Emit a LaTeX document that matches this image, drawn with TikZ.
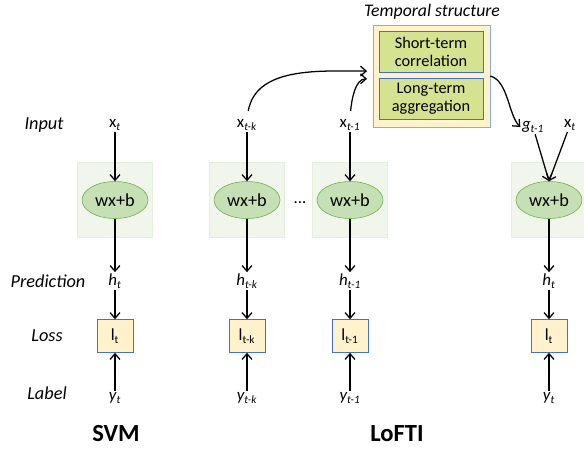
\documentclass[tikz,border=0pt]{standalone}
\usepackage{fontspec}
\setmainfont{Carlito}
\usepackage{tikz}
\usetikzlibrary{arrows.meta,shapes.geometric}
\definecolor{cellbg}{RGB}{240,246,235}
\definecolor{cellline}{RGB}{226,239,217}
\definecolor{fnfill}{RGB}{197,224,180}
\definecolor{fnline}{RGB}{112,173,71}
\definecolor{lossbg}{RGB}{255,242,204}
\definecolor{lossline}{RGB}{68,114,196}
\definecolor{templine}{RGB}{143,170,220}
\definecolor{subbg}{RGB}{213,227,145}

\tikzset{
    lbl/.style={font=\fontsize{13}{15}\selectfont\itshape},
    var/.style={inner sep=1pt},
    cell/.style={draw=cellline, fill=cellbg, minimum size=1.875cm},
    fn/.style={ellipse, draw=fnline, fill=fnfill, minimum width=1.65cm, minimum height=0.925cm, inner sep=0pt, font=\fontsize{13}{15}\selectfont},
    lossbox/.style={draw=lossline, fill=lossbg, minimum width=0.9cm, minimum height=0.825cm, inner sep=0pt},
    subbox/.style={draw=lossline, fill=subbg, minimum width=2.6cm, minimum height=1.02cm, align=center, inner sep=0pt, font=\fontsize{11.6}{12.8}\selectfont},
    arr/.style={-{Straight Barb[length=4pt,width=7pt]}, line width=0.9pt},
    modelname/.style={font=\fontsize{17.5}{20}\selectfont\bfseries},
}

\begin{document}
\begin{tikzpicture}[x=0.025cm, y=-0.025cm, font=\fontsize{12}{14}\selectfont]
    \useasboundingbox (0,0) rectangle (584,450);

    % Row labels
    \node[lbl] (rowin) at (44,125) {Input};
    \node[lbl] (rowpred) at (48,281) {Prediction};
    \node[lbl] (rowloss) at (47,336) {Loss};
    \node[lbl] (rowlab) at (47,393) {Label};

    % Columns: cell, prediction, loss, label
    \foreach \cx/\cn/\cs in {115/svm/t, 247/k/t-k, 350/p/t-1, 549/n/t} {
        \node[cell] (cell\cn) at (\cx,200) {};
        \node[fn] (fn\cn) at (\cx,200) {wx+b};
        \node[var] (h\cn) at (\cx,281) {\textit{h\textsubscript{\cs}}};
        \node[lossbox] (l\cn) at (\cx,336) {l\textsubscript{\cs}};
        \node[var] (y\cn) at (\cx,398) {\textit{y\textsubscript{\cs}}};
        \draw[arr] (fn\cn) -- (h\cn);
        \draw[arr] (h\cn) -- (l\cn);
        \draw[arr] (y\cn) -- (l\cn);
    }
    \node (dots) at (300,203) {...};

    % Inputs
    \node[var] (xsvm) at (115,125) {x\textsubscript{\textit{t}}};
    \node[var] (xk) at (247,125) {x\textsubscript{\textit{t-k}}};
    \node[var] (xp) at (350,125) {x\textsubscript{\textit{t-1}}};
    \node[var] (gn) at (533,127) {\textit{g\textsubscript{t-1}}};
    \node[var] (xn) at (570,125) {x\textsubscript{\textit{t}}};
    \draw[arr] (xsvm) -- (fnsvm);
    \draw[arr] (xk) -- (fnk);
    \draw[arr] (xp) -- (fnp);
    \draw[arr] (gn) -- (fnn.north);
    \draw[arr] (xn) -- (fnn.north);

    % Temporal structure
    \node[draw=templine, fill=lossbg, minimum width=2.925cm, minimum height=2.55cm] (temp) at (431.5,76) {};
    \node[subbox] (short) at (431,51.5) {Short-term\\correlation};
    \node[subbox] (long) at (431,99) {Long-term\\aggregation};
    \node[font=\fontsize{12.6}{14}\selectfont\itshape] (templbl) at (432,12) {Temporal structure};
    \draw[arr, shorten <=5pt, shorten >=4pt] (xk.north) to[out=80, in=180] ([yshift=3.5pt]temp.west);
    \draw[arr, shorten <=5pt, shorten >=4pt] (xp.north) to[out=85, in=180] ([yshift=-2pt]temp.west);
    \draw[arr] (temp.east) .. controls +(18,5) and +(-12,-12) .. (gn.west);

    % Model names
    \node[modelname] (svmname) at (116,434) {SVM};
    \node[modelname] (loftiname) at (397,434) {LoFTI};
\end{tikzpicture}
\end{document}
